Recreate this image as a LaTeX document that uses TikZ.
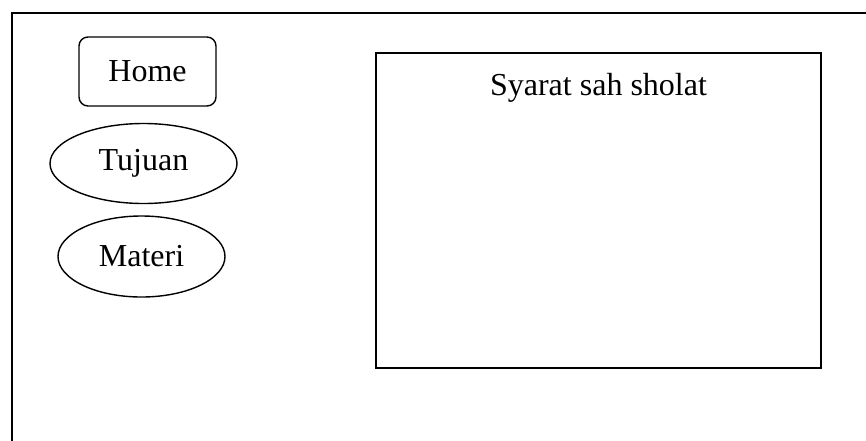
\documentclass[tikz,border=0pt]{standalone}
\usepackage{fontspec}
\setmainfont{Liberation Serif}
\usetikzlibrary{positioning,shapes.geometric}

\begin{document}
\begin{tikzpicture}[x=0.5pt,y=-0.5pt,
  every node/.style={font=\fontsize{16}{19}\selectfont},
  tombol/.style={draw,line width=0.7pt,rounded corners=4.5pt,minimum width=68.5pt,minimum height=34.5pt},
  menu/.style={draw,ellipse,line width=0.7pt,inner sep=0pt}]
\useasboundingbox (0,0) rectangle (866,440);
\clip (0,0) rectangle (866,440);
% bingkai halaman
\draw[line width=1pt] (12,13) rectangle (900,480);
% menu kiri
\node[tombol] (home) at (147.5,71.5) {Home};
\node[menu,minimum width=93.5pt,minimum height=40pt] (tujuan) at (143.5,163.5) {Tujuan};
\node[menu,minimum width=83.5pt,minimum height=40.5pt] (materi) at (141.5,256.5) {Materi};
% isi
\node[draw,line width=0.7pt,minimum width=222.5pt,minimum height=157.5pt] (isi) at (598.5,210.5) {};
\node[below=7pt of isi.north] (judul) {Syarat sah sholat};
\end{tikzpicture}
\end{document}
